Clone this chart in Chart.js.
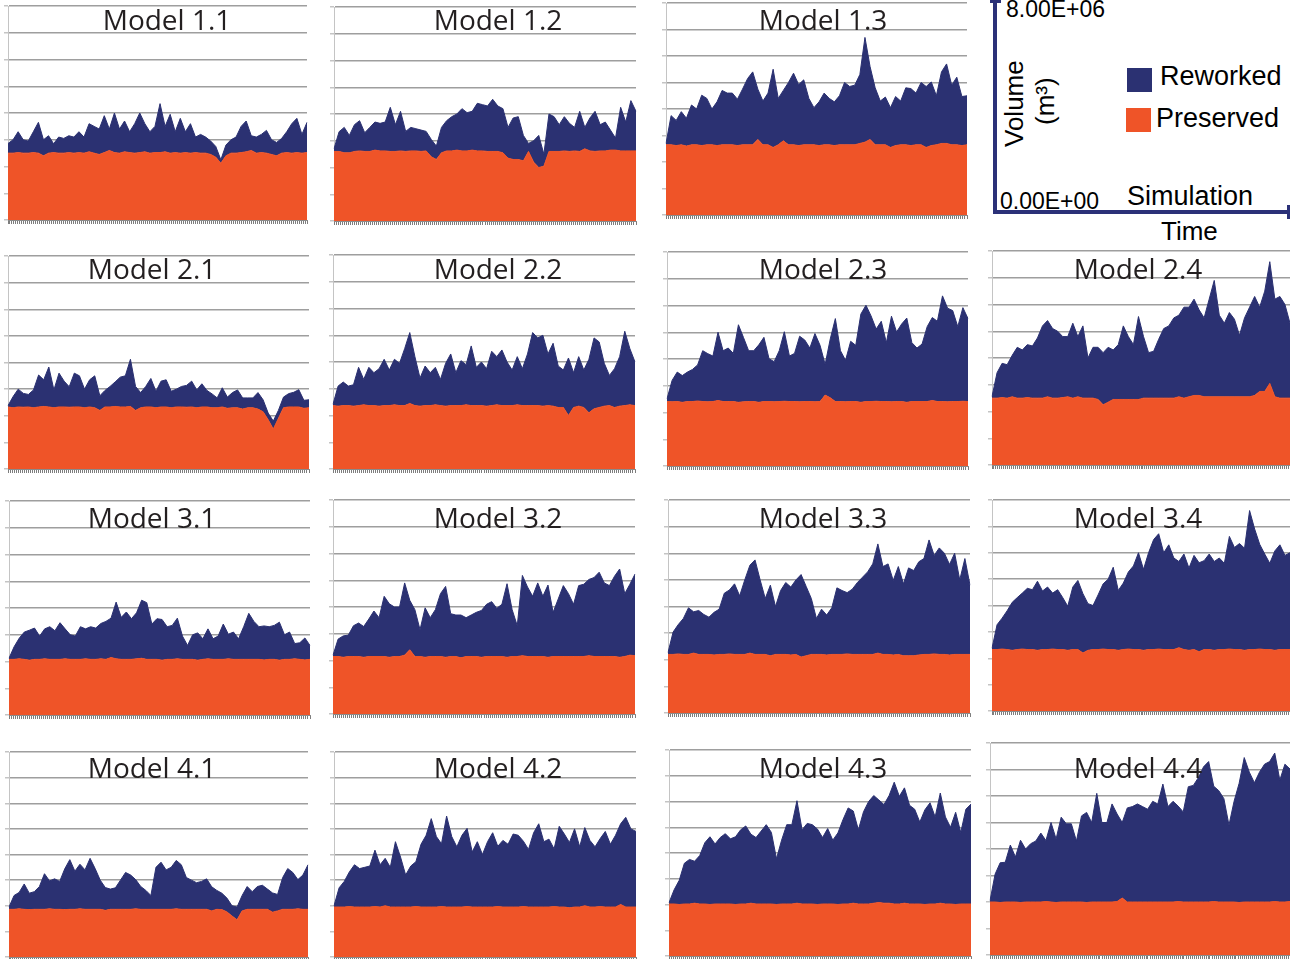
<!DOCTYPE html>
<html>
<head>
<meta charset="utf-8">
<title>Reworked and preserved volume by model</title>
<script src="https://cdn.jsdelivr.net/npm/chart.js@4/dist/chart.umd.min.js"></script>
<style>
  html, body { margin: 0; padding: 0; background: #fff; }
  body { width: 1290px; height: 959px; position: relative; overflow: hidden; }
  canvas.panel { position: absolute; }
  .key { position: absolute; font-family: "Liberation Sans", Arial, sans-serif; color: #000; line-height: 1; white-space: nowrap; }
  .bar { position: absolute; background: #2b3178; }
  .swatch { position: absolute; width: 25px; height: 24px; }
</style>
</head>
<body>
<div id="charts"></div>

<!-- key panel: axes, scale end labels and series swatches -->
<div class="bar" style="left:993px;top:0;width:4px;height:214px"></div>
<div class="bar" style="left:990px;top:0;width:11px;height:3px"></div>
<div class="bar" style="left:993px;top:210px;width:297px;height:4px"></div>
<div class="bar" style="left:1287px;top:205px;width:3px;height:14px"></div>
<div class="key" style="left:1006px;top:-2px;font-size:23px">8.00E+06</div>
<div class="key" style="left:1000px;top:190px;font-size:23px">0.00E+00</div>
<div class="key" style="left:1001px;top:147px;font-size:26px;transform-origin:0 0;transform:rotate(-90deg)">Volume</div>
<div class="key" style="left:1032px;top:125px;font-size:26px;transform-origin:0 0;transform:rotate(-90deg)">(m³)</div>
<div class="swatch" style="left:1127px;top:68px;background:#2b3172"></div>
<div class="swatch" style="left:1126px;top:108px;background:#ef5428"></div>
<div class="key" style="left:1160px;top:63px;font-size:27px">Reworked</div>
<div class="key" style="left:1156px;top:105px;font-size:27px">Preserved</div>
<div class="key" style="left:1127px;top:183px;font-size:27px">Simulation</div>
<div class="key" style="left:1161px;top:218px;font-size:26px">Time</div>

<script>
// Volumes in millions of m³, sampled at 60 evenly spaced simulation steps.
const UNIT = 1e6;
const Y_MAX = 8e6;

const panelTitles = ['Model 1.1','Model 1.2','Model 1.3',
  'Model 2.1','Model 2.2','Model 2.3','Model 2.4',
  'Model 3.1','Model 3.2','Model 3.3','Model 3.4',
  'Model 4.1','Model 4.2','Model 4.3','Model 4.4'];

const preserved_1_1 = [2.5,2.5,2.52,2.5,2.5,2.52,2.5,2.4,2.5,2.52, 2.5,2.5,2.52,2.5,2.52,2.5,2.55,2.5,2.45,2.52, 2.6,2.52,2.5,2.55,2.52,2.5,2.52,2.55,2.5,2.52, 2.52,2.55,2.5,2.52,2.5,2.52,2.5,2.52,2.5,2.5, 2.45,2.35,2.12,2.4,2.5,2.5,2.52,2.55,2.6,2.5, 2.52,2.5,2.45,2.4,2.5,2.52,2.5,2.52,2.5,2.52];
const reworked_1_1 = [0.36,0.5,0.78,0.5,0.45,0.78,1.15,0.6,0.65,0.33, 0.6,0.55,0.63,0.6,0.78,0.6,1.05,1.0,0.95,1.38, 0.8,1.48,0.9,1.15,0.78,1.1,1.48,1.05,0.8,0.98, 1.83,0.95,1.45,0.78,1.3,0.78,1.1,0.58,0.7,0.6, 0.5,0.4,0.13,0.4,0.5,0.6,0.98,1.15,0.55,0.6, 0.68,0.85,0.55,0.5,0.55,0.78,1.1,1.28,0.7,1.13];

const preserved_1_2 = [2.6,2.6,2.55,2.55,2.6,2.62,2.6,2.6,2.65,2.62, 2.62,2.6,2.6,2.62,2.6,2.62,2.62,2.6,2.62,2.4, 2.3,2.55,2.62,2.62,2.65,2.62,2.62,2.65,2.62,2.62, 2.6,2.6,2.6,2.55,2.35,2.3,2.3,2.25,2.6,2.2, 2.0,2.05,2.6,2.6,2.6,2.62,2.6,2.62,2.6,2.7, 2.62,2.6,2.62,2.62,2.65,2.65,2.62,2.62,2.62,2.62];
const reworked_1_2 = [0.1,0.74,0.95,0.65,1.0,1.13,0.7,0.9,1.05,1.03, 1.08,1.65,1.0,1.48,0.75,0.88,0.83,0.8,0.73,0.65, 0.5,0.95,1.13,1.28,1.35,1.58,1.43,1.45,1.78,1.73, 1.7,1.95,1.7,1.65,1.15,1.55,1.6,0.95,0.3,0.8, 1.2,0.45,1.4,1.3,1.0,1.28,1.05,0.88,1.5,0.8, 1.23,1.5,0.98,1.08,0.75,0.45,1.63,1.08,1.88,1.48];

const preserved_1_3 = [2.65,2.65,2.62,2.65,2.6,2.65,2.65,2.62,2.65,2.65, 2.62,2.65,2.65,2.65,2.62,2.65,2.65,2.65,2.85,2.65, 2.65,2.55,2.65,2.8,2.65,2.65,2.62,2.65,2.65,2.65, 2.62,2.65,2.65,2.62,2.65,2.65,2.65,2.65,2.7,2.75, 2.85,2.65,2.65,2.65,2.55,2.62,2.65,2.65,2.62,2.65, 2.65,2.55,2.62,2.65,2.7,2.7,2.65,2.65,2.62,2.65];
const reworked_1_3 = [0.05,1.1,0.95,1.25,1.05,1.5,1.35,1.9,1.75,1.35, 1.65,2.05,1.95,1.95,1.75,2.1,2.5,2.75,1.9,1.65, 1.95,2.95,1.75,1.9,2.35,2.7,2.3,2.45,1.75,1.4, 1.65,1.95,1.75,1.65,1.85,2.35,2.2,2.25,2.6,3.95, 2.75,2.15,1.65,1.8,1.5,1.85,1.65,2.15,2.15,1.95, 2.35,2.3,2.4,1.85,2.7,3.0,2.25,2.55,1.85,1.85];

const preserved_2_1 = [2.33,2.3,2.33,2.32,2.33,2.3,2.33,2.35,2.33,2.3, 2.33,2.33,2.32,2.33,2.33,2.3,2.33,2.3,2.2,2.33, 2.33,2.35,2.33,2.33,2.35,2.2,2.3,2.33,2.33,2.3, 2.33,2.33,2.3,2.33,2.33,2.32,2.33,2.3,2.33,2.33, 2.3,2.3,2.33,2.28,2.3,2.3,2.25,2.3,2.3,2.25, 2.15,1.85,1.5,1.9,2.3,2.33,2.33,2.33,2.28,2.3];
const reworked_2_1 = [0.05,0.42,0.67,0.52,0.47,0.67,1.2,1.0,1.5,0.67, 1.27,0.97,0.77,1.27,1.17,0.7,1.02,1.2,0.55,0.62, 0.77,0.92,1.12,1.17,1.77,0.9,0.57,0.77,1.07,0.62, 0.97,1.02,0.62,0.67,0.77,0.82,0.97,0.67,0.87,0.62, 0.52,0.37,0.72,0.42,0.57,0.67,0.42,0.37,0.37,0.62, 0.45,0.25,0.3,0.3,0.4,0.5,0.55,0.65,0.3,0.3];

const preserved_2_2 = [2.37,2.35,2.37,2.37,2.35,2.37,2.4,2.37,2.37,2.35, 2.37,2.37,2.4,2.37,2.37,2.45,2.37,2.35,2.37,2.37, 2.4,2.37,2.35,2.37,2.37,2.37,2.4,2.37,2.37,2.37, 2.35,2.37,2.4,2.37,2.37,2.37,2.4,2.37,2.37,2.37, 2.37,2.35,2.37,2.35,2.3,2.3,2.0,2.3,2.35,2.3, 2.1,2.25,2.3,2.35,2.37,2.3,2.35,2.37,2.4,2.37];
const reworked_2_2 = [0.05,0.75,0.88,0.73,0.8,1.43,0.95,1.43,1.23,1.4, 1.73,1.33,1.7,1.58,2.13,2.65,1.83,1.05,1.48,1.23, 1.4,0.98,1.6,1.93,1.23,1.68,1.5,2.23,1.43,1.63, 1.4,2.03,1.8,2.08,1.63,1.33,1.8,1.38,1.93,2.73, 2.53,2.65,1.93,2.35,1.55,1.4,2.15,1.3,1.85,1.4, 2.0,2.65,2.45,1.6,1.13,1.45,1.85,2.78,2.1,1.63];

const preserved_2_3 = [2.41,2.4,2.41,2.38,2.41,2.41,2.43,2.41,2.4,2.41, 2.45,2.41,2.41,2.41,2.38,2.4,2.41,2.41,2.38,2.41, 2.41,2.4,2.41,2.42,2.41,2.41,2.4,2.41,2.41,2.4, 2.41,2.65,2.55,2.41,2.41,2.4,2.41,2.41,2.38,2.41, 2.41,2.42,2.41,2.41,2.4,2.41,2.41,2.38,2.41,2.41, 2.41,2.41,2.45,2.41,2.41,2.4,2.41,2.41,2.42,2.41];
const reworked_2_3 = [0.1,0.8,1.1,1.0,1.1,1.2,1.35,1.9,1.8,1.7, 2.55,1.9,2.0,1.8,2.9,2.4,1.9,1.9,2.15,2.4, 1.6,1.5,1.9,2.6,1.7,1.8,2.45,2.3,2.0,2.55, 2.1,1.15,2.2,3.1,1.9,1.55,2.25,2.1,3.3,3.6, 3.2,2.7,3.0,2.2,3.2,2.6,2.9,3.15,2.2,2.0, 2.15,2.8,3.1,3.0,3.95,3.5,3.4,2.8,3.5,3.1];

const preserved_2_4 = [2.5,2.5,2.52,2.5,2.55,2.5,2.5,2.52,2.5,2.5, 2.5,2.55,2.5,2.5,2.52,2.55,2.5,2.55,2.5,2.5, 2.5,2.45,2.25,2.35,2.45,2.45,2.45,2.45,2.45,2.45, 2.5,2.5,2.5,2.5,2.5,2.5,2.5,2.55,2.5,2.55, 2.6,2.6,2.55,2.55,2.55,2.55,2.55,2.55,2.55,2.55, 2.55,2.55,2.6,2.75,2.75,3.05,2.55,2.5,2.5,2.5];
const reworked_2_4 = [0.06,0.95,1.28,1.25,1.55,1.9,1.8,1.98,1.95,2.25, 2.7,2.85,2.6,2.5,2.28,2.25,2.8,2.25,2.7,1.5, 1.9,1.95,1.95,2.05,1.85,2.05,2.75,2.35,2.05,3.1, 2.3,1.7,1.75,2.2,2.6,2.7,3.0,3.05,3.4,3.35, 3.6,3.2,2.95,3.65,4.35,3.05,2.75,3.15,2.9,2.3, 2.95,3.35,3.7,3.15,3.75,4.55,3.65,3.8,3.5,2.8];

const preserved_3_1 = [2.08,2.08,2.1,2.08,2.05,2.08,2.08,2.1,2.08,2.08, 2.08,2.1,2.08,2.08,2.08,2.1,2.08,2.08,2.1,2.08, 2.15,2.1,2.08,2.08,2.08,2.1,2.12,2.08,2.08,2.08, 2.05,2.08,2.08,2.1,2.08,2.08,2.08,2.05,2.08,2.1, 2.08,2.08,2.08,2.1,2.08,2.08,2.08,2.08,2.08,2.08, 2.06,2.08,2.08,2.05,2.08,2.08,2.1,2.08,2.06,2.08];
const reworked_3_1 = [0.04,0.47,0.77,1.02,1.12,1.17,0.87,1.12,1.22,1.07, 1.37,1.12,0.92,0.87,1.22,1.12,1.22,1.17,1.32,1.42, 1.47,2.12,1.57,1.77,1.52,1.72,2.17,2.12,1.32,1.52, 1.52,1.22,1.27,1.52,0.87,0.52,0.92,1.02,0.77,1.12, 0.77,0.87,1.32,0.92,1.02,0.77,1.22,1.72,1.42,1.22, 1.27,1.22,1.27,1.42,0.92,1.02,0.57,0.62,0.82,0.52];

const preserved_3_2 = [2.15,2.15,2.12,2.15,2.15,2.15,2.12,2.15,2.15,2.15, 2.15,2.12,2.15,2.15,2.2,2.4,2.15,2.15,2.12,2.15, 2.15,2.15,2.12,2.15,2.15,2.1,2.15,2.15,2.15,2.12, 2.15,2.15,2.15,2.15,2.12,2.15,2.15,2.18,2.15,2.15, 2.15,2.15,2.12,2.15,2.15,2.15,2.15,2.15,2.15,2.15, 2.18,2.15,2.15,2.15,2.15,2.15,2.12,2.15,2.2,2.18];
const reworked_3_2 = [0.05,0.65,0.8,0.8,1.15,1.25,1.15,1.4,1.7,1.45, 2.25,2.0,1.85,1.85,2.7,1.85,1.75,1.0,1.85,1.45, 1.75,2.35,2.65,1.6,1.55,1.6,1.45,1.55,1.65,1.75, 1.95,2.05,1.8,1.95,2.75,1.75,1.15,3.0,2.6,2.25, 2.75,2.25,2.7,1.65,2.15,2.65,2.35,1.95,2.65,2.7, 2.85,2.95,3.15,2.75,2.65,3.0,3.3,2.35,2.65,3.05];

const preserved_3_3 = [2.2,2.2,2.22,2.2,2.2,2.25,2.2,2.2,2.2,2.18, 2.2,2.2,2.22,2.2,2.2,2.2,2.25,2.2,2.2,2.2, 2.15,2.2,2.2,2.2,2.18,2.2,2.1,2.15,2.2,2.2, 2.2,2.18,2.2,2.2,2.2,2.22,2.2,2.2,2.2,2.2, 2.2,2.25,2.2,2.2,2.18,2.2,2.15,2.15,2.15,2.18, 2.2,2.2,2.22,2.2,2.2,2.18,2.2,2.2,2.2,2.2];
const reworked_3_3 = [0.07,0.84,1.1,1.35,1.75,1.55,1.65,1.5,1.4,1.6, 1.7,2.3,2.4,2.65,2.2,2.8,3.3,3.55,2.8,2.1, 2.65,1.8,2.4,2.7,2.55,2.8,3.1,2.6,2.1,1.35, 1.7,1.5,1.75,2.5,2.4,2.3,2.45,2.7,2.9,3.1, 3.4,4.1,3.3,3.4,2.8,3.3,2.7,3.3,3.2,3.5, 3.6,4.3,3.7,4.0,3.8,3.4,3.8,2.8,3.6,2.6];

const preserved_3_4 = [2.33,2.33,2.35,2.33,2.3,2.33,2.35,2.33,2.33,2.3, 2.33,2.33,2.35,2.33,2.33,2.3,2.33,2.33,2.2,2.3, 2.33,2.33,2.35,2.33,2.33,2.3,2.33,2.35,2.33,2.33, 2.3,2.33,2.33,2.35,2.33,2.33,2.33,2.4,2.33,2.3, 2.33,2.25,2.33,2.33,2.3,2.33,2.33,2.35,2.33,2.33, 2.3,2.33,2.33,2.35,2.33,2.33,2.3,2.33,2.33,2.33];
const reworked_3_4 = [0.05,0.94,1.17,1.47,1.82,1.97,2.12,2.32,2.27,2.62, 2.22,2.37,2.12,2.27,1.97,1.67,2.37,2.62,2.25,1.77, 1.67,2.07,2.47,2.67,3.12,2.27,2.52,2.92,3.17,3.67, 3.07,3.67,4.17,4.37,3.67,3.97,3.47,3.27,3.62,3.12, 3.57,3.37,3.37,3.62,3.37,3.47,3.27,4.27,3.87,4.02, 3.87,5.27,4.57,3.97,3.62,3.27,3.77,3.97,3.57,3.67];

const preserved_4_1 = [1.86,1.86,1.88,1.86,1.85,1.86,1.86,1.86,1.88,1.86, 1.86,1.85,1.86,1.86,1.88,1.86,1.86,1.86,1.86,1.82, 1.86,1.86,1.86,1.86,1.86,1.88,1.86,1.86,1.86,1.86, 1.86,1.86,1.86,1.88,1.86,1.86,1.86,1.86,1.86,1.86, 1.8,1.86,1.85,1.76,1.6,1.45,1.8,1.86,1.86,1.86, 1.86,1.86,1.75,1.8,1.86,1.86,1.86,1.88,1.86,1.86];
const reworked_4_1 = [0.09,0.54,0.64,0.99,0.64,0.69,0.89,1.39,1.09,1.19, 1.09,1.59,1.94,1.49,1.74,1.54,1.99,1.59,1.14,0.89, 0.79,0.84,1.14,1.44,1.34,1.14,0.89,0.74,0.54,1.64, 1.84,1.54,1.64,1.89,1.74,1.24,1.14,1.04,1.09,1.19, 0.94,0.74,0.64,0.54,0.4,0.5,0.6,0.89,0.69,0.89, 0.94,0.79,0.75,0.64,1.24,1.59,1.44,1.14,1.34,1.74];

const preserved_4_2 = [1.95,1.95,1.95,1.97,1.95,1.95,1.95,1.95,1.97,1.95, 2.0,1.95,1.95,1.95,1.95,1.95,1.97,1.95,1.95,1.95, 1.95,1.97,1.95,1.95,1.95,1.95,1.97,1.95,1.95,1.95, 1.95,1.95,1.97,1.95,1.95,1.95,1.95,1.97,1.95,1.95, 1.95,1.95,1.95,1.97,1.95,1.95,1.92,1.95,1.95,2.0, 1.95,1.95,1.97,1.95,1.95,1.95,2.05,1.95,1.95,1.95];
const reworked_4_2 = [0.05,0.75,1.0,1.35,1.65,1.5,1.55,1.6,2.2,1.65, 1.85,1.55,2.55,1.95,1.25,1.6,1.75,2.45,2.8,3.45, 2.75,2.45,3.55,2.75,2.35,2.8,3.05,2.15,2.55,2.05, 2.55,2.9,2.35,2.6,2.45,2.85,2.8,2.55,2.25,2.9, 3.25,2.55,2.65,2.25,3.15,2.85,2.55,3.05,2.35,3.05, 2.6,2.35,2.65,2.95,2.45,2.8,3.15,3.5,3.05,2.95];

const preserved_4_3 = [2.02,2.02,2.0,2.02,2.02,2.05,2.02,2.02,2.0,2.02, 2.02,2.02,2.02,2.0,2.02,2.02,2.05,2.02,2.02,2.02, 2.02,2.0,2.02,2.02,2.02,2.05,2.02,2.02,2.02,2.0, 2.02,2.02,2.02,2.0,2.02,2.02,2.05,2.02,2.02,2.02, 2.05,2.08,2.05,2.05,2.02,2.02,2.05,2.02,2.02,2.02, 2.0,2.02,2.02,2.05,2.02,2.02,2.0,2.02,2.02,2.02];
const reworked_4_3 = [0.05,0.55,0.94,1.58,1.73,1.63,1.88,2.38,2.63,2.33, 2.58,2.73,2.53,2.63,2.88,3.03,2.68,2.58,2.83,3.08, 2.78,1.78,2.48,3.08,3.08,3.98,2.88,3.13,3.08,2.93, 2.58,2.93,2.48,2.78,3.28,3.73,3.58,2.88,3.58,3.98, 4.18,3.98,3.83,4.18,4.73,4.18,4.48,3.83,3.68,3.18, 3.68,3.93,3.38,4.28,3.38,2.98,3.58,2.78,3.68,3.88];

const preserved_4_4 = [2.0,2.0,1.98,2.0,2.0,2.0,1.98,2.0,2.0,2.0, 2.0,2.02,2.0,1.98,2.0,2.0,2.0,2.0,2.0,1.98, 2.0,2.0,2.0,2.0,2.0,2.02,2.15,2.0,2.0,2.0, 2.0,2.0,2.0,2.0,2.0,2.0,2.0,2.02,2.0,2.0, 2.0,2.0,2.0,2.0,2.02,2.0,2.0,2.0,2.0,1.98, 2.0,2.0,2.0,2.0,2.0,2.0,2.02,2.0,2.0,2.02];
const reworked_4_4 = [0.05,1.05,1.5,1.5,2.15,1.7,2.35,2.0,2.2,2.3, 2.6,2.3,3.0,2.4,3.2,2.95,2.95,2.3,3.25,3.4, 3.0,4.1,3.0,3.0,3.7,3.3,2.85,3.55,3.6,3.7, 3.6,3.5,3.8,3.7,4.45,3.6,3.8,3.6,3.4,4.35, 4.4,4.7,5.1,5.3,4.35,4.2,3.9,2.9,3.8,4.5, 5.45,4.9,4.5,4.9,5.2,5.3,5.6,4.6,5.2,5.0];

const preservedSeries = [preserved_1_1, preserved_1_2, preserved_1_3,
  preserved_2_1, preserved_2_2, preserved_2_3, preserved_2_4,
  preserved_3_1, preserved_3_2, preserved_3_3, preserved_3_4,
  preserved_4_1, preserved_4_2, preserved_4_3, preserved_4_4];
const reworkedSeries = [reworked_1_1, reworked_1_2, reworked_1_3,
  reworked_2_1, reworked_2_2, reworked_2_3, reworked_2_4,
  reworked_3_1, reworked_3_2, reworked_3_3, reworked_3_4,
  reworked_4_1, reworked_4_2, reworked_4_3, reworked_4_4];

// Page layout: plot box [left, top, right, bottom] and title anchor [centre x, baseline y]
const plotBoxes = [
  [8, 6, 307, 220], [334, 7, 636, 221], [666, 3, 967, 215],
  [8, 256, 309, 469], [333, 255, 635, 469], [667, 252, 968, 466], [992, 251, 1290, 465],
  [9, 501, 310, 715], [333, 500, 635, 714], [668, 500, 970, 713], [992, 500, 1290, 711],
  [9, 752, 308, 957], [334, 752, 636, 957], [669, 750, 971, 956], [990, 743, 1290, 955]
];
const titleAnchors = [
  [167, 30], [498, 30], [823, 30],
  [152, 279], [498, 279], [823, 279], [1138, 279],
  [152, 528], [498, 528], [823, 528], [1138, 528],
  [152, 778], [498, 778], [823, 778], [1138, 778]
];

const NAVY = '#2b3172';
const ORANGE = '#ef5428';
const Y_AXIS_W = 5, X_AXIS_H = 4, PAD_TOP = 2, PAD_RIGHT = 2;

// Panel title drawn over the plot, above the areas
const panelTitle = {
  id: 'panelTitle',
  afterDatasetsDraw(chart, args, opts) {
    const ctx = chart.ctx;
    ctx.save();
    ctx.font = '28px "Open Sans", "Noto Sans", sans-serif';
    ctx.fillStyle = '#231f20';
    ctx.textAlign = 'center';
    ctx.textBaseline = 'alphabetic';
    ctx.fillText(opts.text, opts.x, opts.y);
    ctx.restore();
  }
};

function buildPanel(i) {
  const [L, T, R, B] = plotBoxes[i];
  const left = L - Y_AXIS_W, top = T - PAD_TOP;
  const w = (R - L) + Y_AXIS_W + PAD_RIGHT;
  const h = (B - T) + PAD_TOP + X_AXIS_H;
  const cv = document.createElement('canvas');
  cv.className = 'panel';
  cv.width = w; cv.height = h;
  cv.style.left = left + 'px'; cv.style.top = top + 'px';
  cv.style.width = w + 'px'; cv.style.height = h + 'px';
  document.getElementById('charts').appendChild(cv);

  const pres = preservedSeries[i].map(v => v * UNIT);
  const rew = reworkedSeries[i].map(v => v * UNIT);
  const steps = pres.map((_, k) => k + 1);

  new Chart(cv, {
    type: 'line',
    data: {
      labels: steps,
      datasets: [
        { label: 'Preserved', data: pres, fill: 'origin', backgroundColor: ORANGE,
          borderColor: ORANGE, borderWidth: 1, pointRadius: 0, tension: 0 },
        { label: 'Reworked', data: rew, fill: '-1', backgroundColor: NAVY,
          borderColor: NAVY, borderWidth: 1, pointRadius: 0, tension: 0 }
      ]
    },
    options: {
      responsive: false,
      animation: false,
      devicePixelRatio: 1,
      layout: { padding: { top: PAD_TOP, right: PAD_RIGHT, left: 0, bottom: 0 } },
      plugins: {
        legend: { display: false },
        tooltip: { enabled: false },
        panelTitle: { text: panelTitles[i], x: titleAnchors[i][0] - left, y: titleAnchors[i][1] - top }
      },
      scales: {
        x: { type: 'category', display: false, offset: false },
        y: {
          stacked: true, min: 0, max: Y_MAX,
          ticks: { display: false, stepSize: 1e6 },
          grid: { color: '#9e9e9e', lineWidth: 1.5, tickLength: 4, tickColor: '#c4c4c4' },
          border: { display: true, color: '#c4c4c4', width: 1 },
          afterFit: s => { s.width = Y_AXIS_W; }
        },
        steps: {
          type: 'linear', position: 'bottom', min: 0, max: 150,
          ticks: { display: false, stepSize: 1 },
          grid: { drawOnChartArea: false, tickLength: 4, color: '#7d7d7d', lineWidth: 1 },
          border: { display: true, color: '#8a8a8a' },
          afterFit: s => { s.height = X_AXIS_H; }
        }
      }
    },
    plugins: [panelTitle]
  });
}

function buildAll() {
  for (let i = 0; i < panelTitles.length; i++) buildPanel(i);
}

if (document.fonts && document.fonts.load) {
  document.fonts.load('28px "Open Sans"').then(buildAll, buildAll);
} else {
  buildAll();
}
</script>
</body>
</html>
